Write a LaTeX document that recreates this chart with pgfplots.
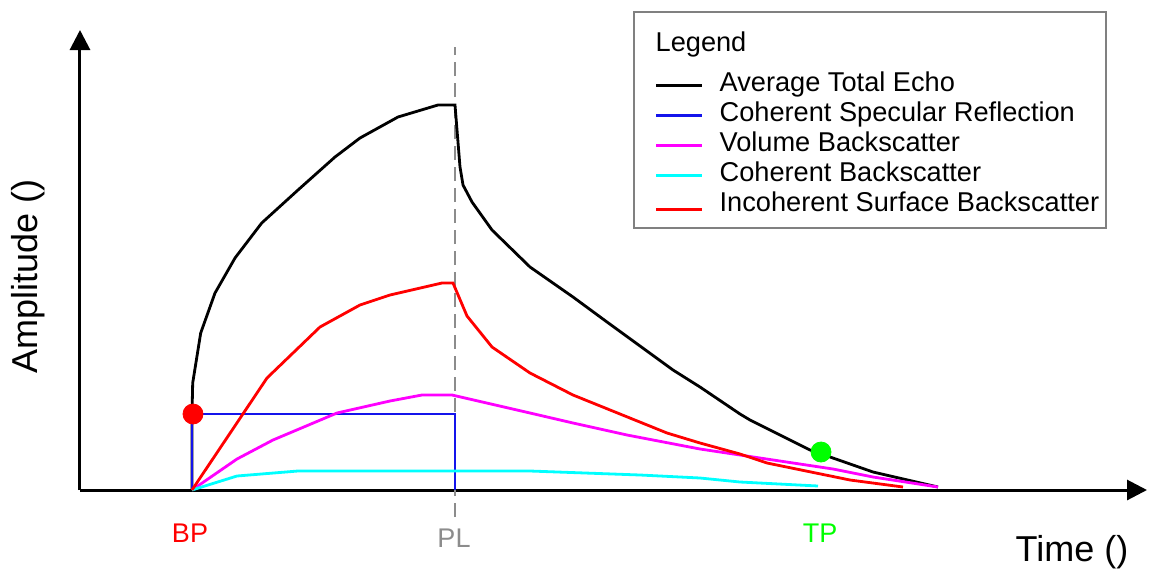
\documentclass[border=0pt]{standalone}
\usepackage{fontspec}
\setmainfont{Liberation Sans}
\usepackage{pgfplots}
\pgfplotsset{compat=1.18}
\usetikzlibrary{arrows.meta}

\definecolor{specblue}{RGB}{20,20,235}
\definecolor{volmag}{RGB}{255,0,255}
\definecolor{cohcyan}{RGB}{0,255,255}
\definecolor{tpgreen}{RGB}{0,255,0}
\definecolor{plgray}{RGB}{140,140,140}

\begin{document}
\begin{tikzpicture}
\begin{axis}[
  scale only axis,
  width=533.5pt, height=230pt,
  xmin=80, xmax=1147, ymin=0, ymax=460,
  axis lines=left,
  axis line style={line width=1.5pt, -{Triangle[length=10pt,width=10pt]}},
  xtick=\empty, ytick=\empty,
  clip=false,
  xlabel={Time ()}, ylabel={Amplitude ()},
  every axis x label/.style={at={(axis description cs:0.9297,-0.135)}, anchor=center, font=\fontsize{18}{21}\selectfont},
  every axis y label/.style={at={(axis description cs:-0.0487,0.464)}, anchor=center, rotate=90, font=\fontsize{18}{21}\selectfont},
  legend style={at={(axis description cs:0.5183,1.0413)}, anchor=north west,
    draw=gray, line width=0.8pt, font=\fontsize{13.6}{16}\selectfont,
    inner xsep=10.5pt, inner ysep=0pt, row sep=0pt, column sep=8pt,
    nodes={inner sep=0pt, text height=10.5pt, text depth=4.5pt}},
  legend cell align=left,
  legend image code/.code={\draw[line width=1.4pt, #1] (0pt,0pt) -- (23pt,0pt);},
  curve/.style={line width=1.4pt},
]

% legend heading
\addlegendimage{empty legend}
\addlegendentry[text height=20pt, text depth=9.5pt]{\hspace*{-32pt}Legend}

% pulse-length marker
\addplot[plgray, line width=0.7pt, dash pattern=on 7pt off 3.5pt, forget plot]
  coordinates {(455,-27) (455,443)};

% average total echo
\addplot[black, curve] coordinates {
  (192,0) (192,76) (192.7,107) (200.7,157) (215,197) (235,232) (261.7,267)
  (298,300) (335,333) (360,352) (398,373) (438,385) (455,385)
  (460,323) (463,305) (472,288) (492,260) (530,223) (573,193) (607,168)
  (673,120) (700,103) (740,76) (750,70) (810,40) (873,18) (938,3)
};
\addlegendentry{Average Total Echo}

% coherent specular reflection
\addplot[specblue, curve] coordinates {(192,0) (192,76) (455,76) (455,0)};
\addlegendentry{Coherent Specular Reflection}

% volume backscatter
\addplot[volmag, curve] coordinates {
  (192,0) (237,31) (273,50) (337,77) (390,89) (422,95) (452,95)
  (530,77) (573,67) (627,55) (700,41) (740,35) (833,21) (873,13) (938,3)
};
\addlegendentry{Volume Backscatter}

% coherent backscatter
\addplot[cohcyan, curve] coordinates {
  (192,0) (237,14) (298,19) (530,19) (640,15) (700,12) (740,8) (818,4)
};
\addlegendentry{Coherent Backscatter}

% incoherent surface backscatter
\addplot[red, curve] coordinates {
  (192,0) (267,112) (320,163) (360,185) (390,195) (442,207) (453,207)
  (467,174) (492,143) (530,117) (573,95) (667,57) (700,47) (740,36)
  (767,27) (850,10) (903,3)
};
\addlegendentry[text depth=8pt]{Incoherent Surface Backscatter\hspace*{-7pt}}

% beginning point and trailing point
\addplot[only marks, mark=*, mark size=5pt, red, forget plot] coordinates {(193,76)};
\addplot[only marks, mark=*, mark size=5pt, tpgreen, forget plot] coordinates {(821,38)};

% point labels
\node[red, font=\fontsize{13.5}{16}\selectfont] at (axis cs:190,-43) {BP};
\node[plgray, font=\fontsize{13.5}{16}\selectfont] at (axis cs:454,-48.5) {PL};
\node[tpgreen, font=\fontsize{13.5}{16}\selectfont] at (axis cs:820,-43) {TP};

\coordinate (bbSW) at (axis cs:0,-79);
\coordinate (bbNE) at (axis cs:1149,490);
\end{axis}
\pgfresetboundingbox
\path (bbSW) rectangle (bbNE);
\end{tikzpicture}
\end{document}
